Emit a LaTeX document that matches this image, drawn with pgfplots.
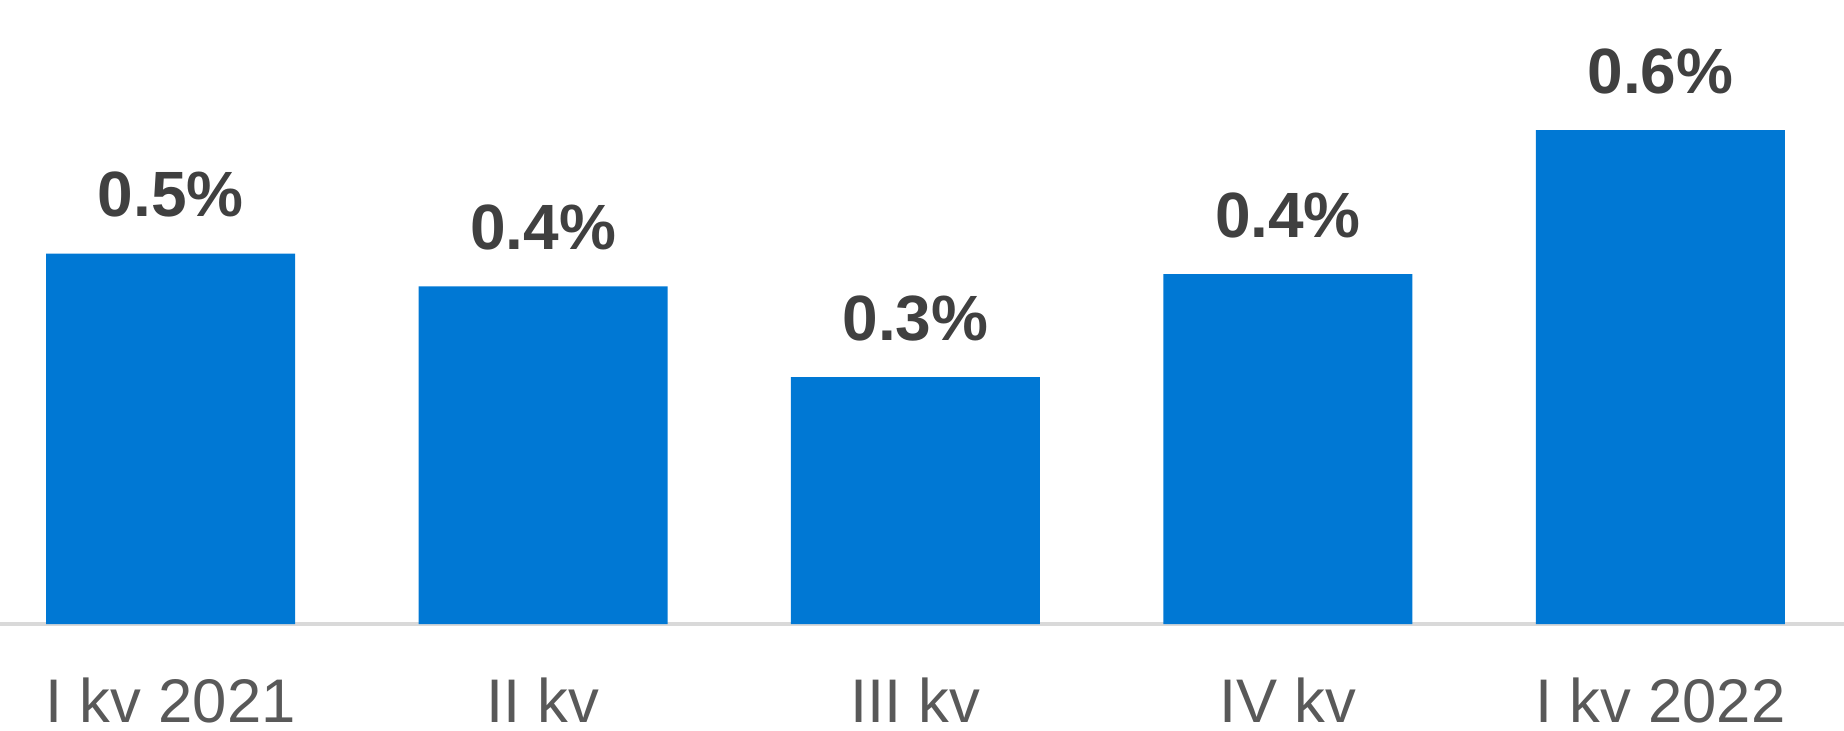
\documentclass[border=0pt]{standalone}
\usepackage{pgfplots}
\pgfplotsset{compat=1.18}
\usepackage{fontspec}
\setmainfont{Liberation Sans}
\definecolor{barblue}{HTML}{0078D4}
\definecolor{lblgray}{HTML}{404040}
\definecolor{tickgray}{HTML}{595959}
\definecolor{axgray}{HTML}{D9D9D9}
\begin{document}
\begin{tikzpicture}
\begin{axis}[
  anchor=south west, at={(0,0)},
  scale only axis,
  width=461pt, height=156pt,
  xmin=-0.458, xmax=4.493,
  ymin=0, ymax=0.758,
  ybar, bar width=62.25pt,
  hide y axis,
  axis x line*=bottom,
  x axis line style={draw=axgray, line width=1pt, -},
  xtick={0,1,2,3,4},
  xticklabels={I kv 2021, II kv, III kv, IV kv, I kv 2022},
  major tick length=0pt,
  xticklabel style={anchor=base, yshift=-24.5pt, text=tickgray, font=\fontsize{15.4}{18}\selectfont},
  clip=false,
  point meta=explicit symbolic,
  nodes near coords,
  every node near coord/.append style={anchor=base, yshift=9.25pt, text=lblgray, font=\fontsize{16}{19}\selectfont\bfseries},
]
\addplot[fill=barblue, draw=none] coordinates {
  (0,0.45) [0.5\%]
  (1,0.41) [0.4\%]
  (2,0.30) [0.3\%]
  (3,0.425) [0.4\%]
  (4,0.60) [0.6\%]
};
\end{axis}
\pgfresetboundingbox
\path[use as bounding box] (0,-26.5pt) rectangle (461pt,156pt);
\end{tikzpicture}
\end{document}
